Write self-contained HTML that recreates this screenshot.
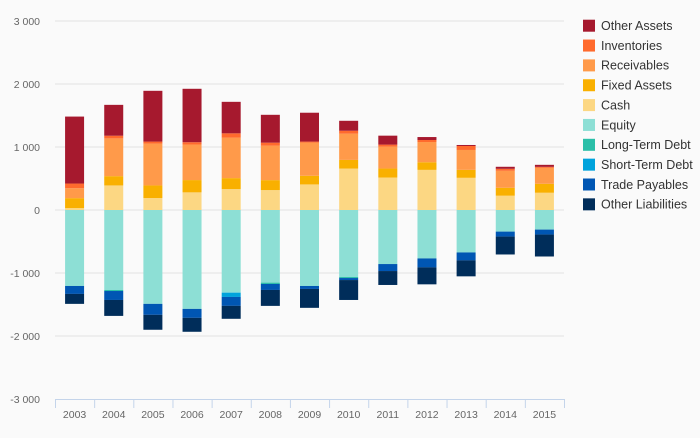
<!DOCTYPE html>
<html><head><meta charset="utf-8"><style>
body{margin:0;background:#fafafa;font-family:"Liberation Sans",sans-serif;}
svg text{font-family:"Liberation Sans",sans-serif;}
</style></head><body>
<svg id="c" width="700" height="433"></svg>
<script>
const years=["2003","2004","2005","2006","2007","2008","2009","2010","2011","2012","2013","2014","2015"];
const seriesNames=["Other Assets","Inventories","Receivables","Fixed Assets","Cash","Equity","Long-Term Debt","Short-Term Debt","Trade Payables","Other Liabilities"];
const colors=["#a6192e","#ff6a2d","#ff9a4a","#f9b000","#fcd783","#8ddfd5","#2bbfa8","#00a3dc","#0056b3","#002d5a"];
const cash=[30,390,190,280,332,316,406,658,516,637,511,227,274];
const fixedAssets=[158,147,200,195,174,158,137,137,142,121,126,126,142];
const receivables=[158,600,664,564,643,548,527,416,348,321,316,269,253];
const inventories=[74,42,32,37,68,47,16,47,32,32,63,32,16];
const otherAssets=[1063,490,806,848,500,442,458,158,142,47,16,32,32];
const equity=[1206,1270,1490,1570,1312,1153,1206,1064,858,769,674,343,311];
const longTermDebt=[0,16,0,0,0,21,0,16,0,0,0,0,0];
const shortTermDebt=[0,0,0,0,68,0,0,0,0,0,0,0,0];
const tradePayables=[126,142,174,142,142,95,47,32,111,142,126,79,79];
const otherLiabilities=[158,253,237,221,205,253,300,316,221,269,253,284,348];
const yTicks=[-3000,-2000,-1000,0,1000,2000,3000];
const yTickLabels=["-3 000","-2 000","-1 000","0","1 000","2 000","3 000"];

const NS="http://www.w3.org/2000/svg";
const svg=document.getElementById("c");
const L=55,R=564,T=21,B=399;
const y=v=>210-v*(B-T)/6000;
const step=(R-L)/years.length;
const xc=i=>L+step*(i+0.5);
function mk(tag,attrs,parent){const e=document.createElementNS(NS,tag);for(const k in attrs)e.setAttribute(k,attrs[k]);(parent||svg).appendChild(e);return e;}
// grid & y labels
yTicks.forEach((t,i)=>{
  if(t!==-3000){const g=mk("line",{x1:L,x2:R,y1:y(t),y2:y(t),stroke:"#e2e2e2","stroke-width":1});
  
  }
  const tx=mk("text",{x:40,y:y(t)+4,"text-anchor":"end","font-size":"10.5",fill:"#666"});
  tx.textContent=yTickLabels[i];
  
  
});
// bars
const pos=[cash,fixedAssets,receivables,inventories,otherAssets];
const posIdx=[4,3,2,1,0];
const neg=[equity,longTermDebt,shortTermDebt,tradePayables,otherLiabilities];
const negIdx=[5,6,7,8,9];
years.forEach((yr,i)=>{
  let acc=0;
  pos.forEach((s,k)=>{const v=s[i];if(!v)return;
    const r=mk("rect",{x:xc(i)-9.5,width:19,y:y(acc+v),height:y(acc)-y(acc+v),fill:colors[posIdx[k]]});
    
    
    acc+=v;});
  acc=0;
  neg.forEach((s,k)=>{const v=s[i];if(!v)return;
    const r=mk("rect",{x:xc(i)-9.5,width:19,y:y(-acc),height:y(-acc-v)-y(-acc),fill:colors[negIdx[k]]});
    
    
    acc+=v;});
  const tx=mk("text",{x:xc(i),y:418,"text-anchor":"middle","font-size":"10.5",fill:"#666"});
  tx.textContent=yr;
  
  
});
// x axis
const ax=mk("line",{x1:L,x2:R,y1:B+0.5,y2:B+0.5,stroke:"#c4d4ea"});


for(let i=0;i<=years.length;i++){
  const tk=mk("line",{x1:L+step*i+0.5,x2:L+step*i+0.5,y1:B,y2:B+9,stroke:"#c4d4ea"});
  
  
}
// legend
seriesNames.forEach((n,i)=>{
  const g=mk("g",{});
  
  
  mk("rect",{x:583,y:19.7+i*19.85,width:12,height:12,fill:colors[i]},g);
  const t=mk("text",{x:601,y:30+i*19.85,"font-size":"12.5",fill:"#333"},g);
  t.textContent=n;
});
</script>
</body></html>
